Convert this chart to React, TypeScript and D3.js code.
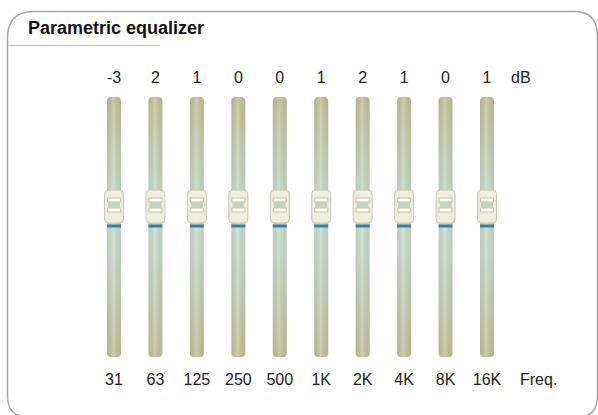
import * as d3 from "d3";
import { useEffect, useRef } from "react";

const bands = ["31", "63", "125", "250", "500", "1K", "2K", "4K", "8K", "16K"];
const gains = [-3, 2, 1, 0, 0, 1, 2, 1, 0, 1];
// the reference draws every handle at the same spot, so they sit on this level
const handleLevel = 0;

const W = 598;
const H = 415;

export default function App() {
  const ref = useRef<SVGSVGElement | null>(null);

  useEffect(() => {
    const svg = d3.select(ref.current);
    svg.selectAll("*").remove();

    const defs = svg.append("defs");
    const grad = defs
      .append("linearGradient")
      .attr("id", "trackV")
      .attr("x1", 0)
      .attr("y1", 0)
      .attr("x2", 0)
      .attr("y2", 1);
    grad.append("stop").attr("offset", "0%").attr("stop-color", "#c4c09a");
    grad.append("stop").attr("offset", "38%").attr("stop-color", "#c9dccb");
    grad.append("stop").attr("offset", "60%").attr("stop-color", "#cadccd");
    grad.append("stop").attr("offset", "100%").attr("stop-color", "#c4c09a");

    const shade = defs
      .append("linearGradient")
      .attr("id", "trackH")
      .attr("x1", 0)
      .attr("y1", 0)
      .attr("x2", 1)
      .attr("y2", 0);
    shade.append("stop").attr("offset", "0%").attr("stop-color", "#000").attr("stop-opacity", 0.07);
    shade.append("stop").attr("offset", "45%").attr("stop-color", "#fff").attr("stop-opacity", 0.15);
    shade.append("stop").attr("offset", "100%").attr("stop-color", "#000").attr("stop-opacity", 0.07);

    // frame
    svg
      .append("path")
      .attr(
        "d",
        `M7.5,396 L7.5,38 Q7.5,11.5 34,11.5 L574,11.5 Q597.5,11.5 597.5,36 L597.5,396 Q597.5,417 577,417 L28,417 Q7.5,417 7.5,396 Z`
      )
      .attr("fill", "none")
      .attr("stroke", "#a8a8a8")
      .attr("stroke-width", 1.5);

    svg
      .append("line")
      .attr("x1", 8)
      .attr("x2", 160)
      .attr("y1", 45.5)
      .attr("y2", 45.5)
      .attr("stroke", "#c8c8c8")
      .attr("stroke-width", 1.5);

    const font = "'Liberation Sans', Arial, sans-serif";

    svg
      .append("text")
      .attr("x", 28)
      .attr("y", 34)
      .style("font-family", font)
      .style("font-size", "18px")
      .style("font-weight", "bold")
      .attr("fill", "#111")
      .text("Parametric equalizer");

    const x = d3.scalePoint<string>().domain(bands).range([114, 487]);
    const y = d3.scaleLinear().domain([-12, 12]).range([357, 97]);

    const g = svg
      .append("g")
      .selectAll("g")
      .data(bands)
      .join("g")
      .attr("transform", (d) => `translate(${x(d)},0)`);

    g.append("rect")
      .attr("x", -7)
      .attr("y", y(12))
      .attr("width", 14)
      .attr("height", y(-12) - y(12))
      .attr("rx", 4)
      .attr("fill", "url(#trackV)");
    g.append("rect")
      .attr("x", -7)
      .attr("y", y(12))
      .attr("width", 14)
      .attr("height", y(-12) - y(12))
      .attr("rx", 4)
      .attr("fill", "url(#trackH)");

    const hy = y(handleLevel);
    // blue value line
    g.append("rect")
      .attr("x", -7)
      .attr("y", hy - 2.5)
      .attr("width", 14)
      .attr("height", 3)
      .attr("fill", "#3b7fa2");

    // handle
    g.append("rect")
      .attr("x", -9.5)
      .attr("y", hy - 37)
      .attr("width", 19)
      .attr("height", 33)
      .attr("rx", 4)
      .attr("fill", "#eeedde")
      .attr("stroke", "#c8c7ae")
      .attr("stroke-width", 1);
    g.append("rect")
      .attr("x", -6)
      .attr("y", hy - 25)
      .attr("width", 12)
      .attr("height", 9)
      .attr("fill", "#c3d3c4");
    [hy - 29, hy - 19].forEach((ly) => {
      g.append("rect")
        .attr("x", -6.5)
        .attr("y", ly)
        .attr("width", 13)
        .attr("height", 4)
        .attr("fill", "#fefef8")
        .attr("stroke", "#c6c4aa")
        .attr("stroke-width", 1);
    });

    g.append("text")
      .attr("y", 83)
      .attr("text-anchor", "middle")
      .style("font-family", font)
      .style("font-size", "16px")
      .attr("fill", "#222")
      .text((_, i) => String(gains[i]));

    g.append("text")
      .attr("y", 385)
      .attr("text-anchor", "middle")
      .style("font-family", font)
      .style("font-size", "16px")
      .attr("fill", "#222")
      .text((d) => d);

    svg
      .append("text")
      .attr("x", 511)
      .attr("y", 83)
      .style("font-family", font)
      .style("font-size", "16px")
      .attr("fill", "#222")
      .text("dB");
    svg
      .append("text")
      .attr("x", 520)
      .attr("y", 385)
      .style("font-family", font)
      .style("font-size", "16px")
      .attr("fill", "#222")
      .text("Freq.");
  }, []);

  return (
    <div style={{ position: "fixed", left: 0, top: 0 }}>
      <svg ref={ref} width={W} height={H} style={{ display: "block", background: "#fff" }} />
    </div>
  );
}
